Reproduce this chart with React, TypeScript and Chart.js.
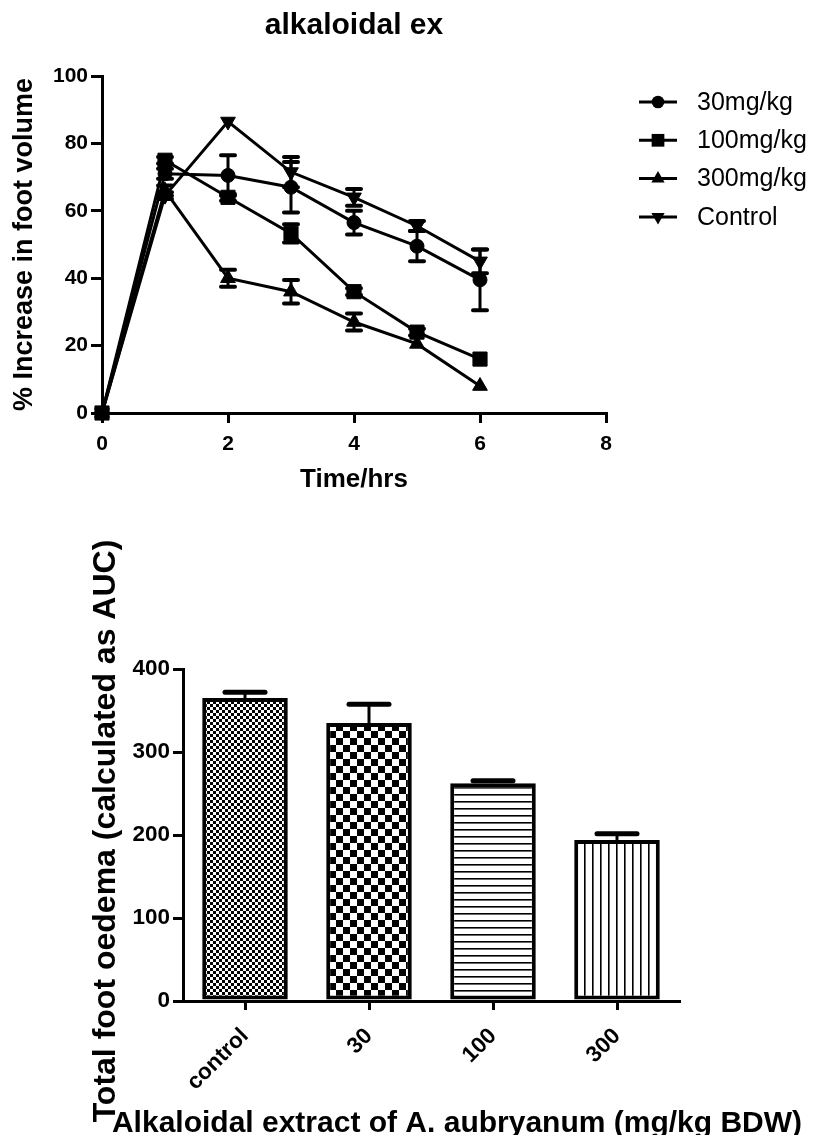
import React, { useEffect, useRef } from 'react';
import { Chart, registerables } from 'chart.js';

Chart.register(...registerables);

const FONT = "Arial, 'Liberation Sans', Helvetica, sans-serif";

// ---------- Top chart: % increase in foot volume over time ----------
const chartTitle = 'alkaloidal ex';
const timeHrs = [0, 1, 2, 3, 4, 5, 6];
const seriesNames = ['30mg/kg', '100mg/kg', '300mg/kg', 'Control'];
const mean30 = [0, 71, 70.5, 67, 56.5, 49.5, 39.5];
const sem30 = [0, 1.5, 6, 7.5, 3.5, 4.5, 9];
const mean100 = [0, 75, 64, 53.3, 36, 24, 16];
const sem100 = [0, 1, 1, 2.7, 1, 1, 0];
const mean300 = [0, 66, 40, 36, 27, 20.5, 8];
const sem300 = [0, 1.5, 2.5, 3.5, 2.5, 0, 0];
const meanControl = [0, 64.5, 86.5, 71.5, 64, 55.5, 45];
const semControl = [0, 1, 0, 4.5, 2.5, 1.5, 3.5];
const xTicksTop = [0, 2, 4, 6, 8];
const yTicksTop = [0, 20, 40, 60, 80, 100];
const xTitleTop = 'Time/hrs';
const yTitleTop = '% Increase in foot volume';

// ---------- Bottom chart: total foot oedema (AUC) ----------
const groups = ['control', '30', '100', '300'];
const aucMean = [365, 335, 262.5, 194];
const aucSem = [7, 22.5, 3, 7.5];
const yTicksBottom = [0, 100, 200, 300, 400];
const xTitleBottom = 'Alkaloidal extract of A. aubryanum (mg/kg BDW)';
const yTitleBottom = 'Total foot oedema (calculated as AUC)';

function drawMarker(ctx: CanvasRenderingContext2D, style: string, rot: number, x: number, y: number, r: number) {
  ctx.beginPath();
  if (style === 'circle') {
    ctx.arc(x, y, r, 0, Math.PI * 2);
  } else if (style === 'rect') {
    const s = r * Math.SQRT1_2;
    ctx.rect(x - s, y - s, 2 * s, 2 * s);
  } else {
    let a = (rot * Math.PI) / 180;
    ctx.moveTo(x + Math.sin(a) * r, y - Math.cos(a) * r);
    a += (2 * Math.PI) / 3;
    ctx.lineTo(x + Math.sin(a) * r, y - Math.cos(a) * r);
    a += (2 * Math.PI) / 3;
    ctx.lineTo(x + Math.sin(a) * r, y - Math.cos(a) * r);
    ctx.closePath();
  }
  ctx.fill();
}

const lineErrorBars = {
  id: 'lineErrorBars',
  beforeDatasetsDraw(chart: any) {
    const ctx = chart.ctx as CanvasRenderingContext2D;
    const xs = chart.scales.x;
    const ys = chart.scales.y;
    ctx.save();
    ctx.strokeStyle = '#000';
    chart.data.datasets.forEach((ds: any) => {
      ds.errors.forEach((e: number, j: number) => {
        if (!e) return;
        const v = ds.data[j].y;
        const x = xs.getPixelForValue(ds.data[j].x);
        const yT = ys.getPixelForValue(v + e);
        const yB = ys.getPixelForValue(v - e);
        ctx.lineWidth = 3;
        ctx.lineCap = 'butt';
        ctx.beginPath();
        ctx.moveTo(x, yT);
        ctx.lineTo(x, yB);
        ctx.stroke();
        ctx.lineWidth = 4;
        ctx.lineCap = 'round';
        ctx.beginPath();
        ctx.moveTo(x - 7, yT);
        ctx.lineTo(x + 7, yT);
        ctx.moveTo(x - 7, yB);
        ctx.lineTo(x + 7, yB);
        ctx.stroke();
      });
    });
    ctx.restore();
  },
};

const sideLegend = {
  id: 'sideLegend',
  afterDraw(chart: any) {
    const ctx = chart.ctx as CanvasRenderingContext2D;
    ctx.save();
    ctx.fillStyle = '#000';
    ctx.strokeStyle = '#000';
    ctx.font = `25px ${FONT}`;
    ctx.textAlign = 'left';
    ctx.textBaseline = 'middle';
    chart.data.datasets.forEach((ds: any, i: number) => {
      const y = 102 + i * 38.3;
      ctx.lineWidth = 3;
      ctx.beginPath();
      ctx.moveTo(639, y);
      ctx.lineTo(677, y);
      ctx.stroke();
      drawMarker(ctx, ds.pointStyle, ds.pointRotation || 0, 658, y, ds.pointRadius * 0.9);
      ctx.fillText(ds.label, 697, y + 1);
    });
    ctx.restore();
  },
};

const barErrorBars = {
  id: 'barErrorBars',
  afterDatasetsDraw(chart: any) {
    const ctx = chart.ctx as CanvasRenderingContext2D;
    const ys = chart.scales.y;
    const meta = chart.getDatasetMeta(0);
    ctx.save();
    ctx.strokeStyle = '#000';
    aucMean.forEach((m, j) => {
      const x = meta.data[j].x;
      const yBar = ys.getPixelForValue(m);
      const yT = ys.getPixelForValue(m + aucSem[j]);
      ctx.lineWidth = 3;
      ctx.lineCap = 'butt';
      ctx.beginPath();
      ctx.moveTo(x, yBar);
      ctx.lineTo(x, yT);
      ctx.stroke();
      ctx.lineWidth = 5;
      ctx.lineCap = 'round';
      ctx.beginPath();
      ctx.moveTo(x - 20, yT);
      ctx.lineTo(x + 20, yT);
      ctx.stroke();
    });
    ctx.restore();
  },
};

const bottomTitles = {
  id: 'bottomTitles',
  afterDraw(chart: any) {
    const ctx = chart.ctx as CanvasRenderingContext2D;
    ctx.save();
    ctx.fillStyle = '#000';
    ctx.textAlign = 'center';
    ctx.textBaseline = 'alphabetic';
    ctx.font = `bold 30px ${FONT}`;
    ctx.fillText(xTitleBottom, 457, 632);
    ctx.translate(115, 331);
    ctx.rotate(-Math.PI / 2);
    ctx.font = `bold 32px ${FONT}`;
    ctx.fillText(yTitleBottom, 0, 0);
    ctx.restore();
  },
};

function makePattern(target: CanvasRenderingContext2D, kind: string): CanvasPattern | string {
  const c = document.createElement('canvas');
  const g = c.getContext('2d') as CanvasRenderingContext2D;
  if (kind === 'fine') {
    c.width = 6; c.height = 6;
    g.fillStyle = '#fff'; g.fillRect(0, 0, 6, 6);
    g.fillStyle = '#000'; g.fillRect(0, 0, 3, 3); g.fillRect(3, 3, 3, 3);
  } else if (kind === 'coarse') {
    c.width = 14; c.height = 14;
    g.fillStyle = '#fff'; g.fillRect(0, 0, 14, 14);
    g.fillStyle = '#000'; g.fillRect(0, 0, 7, 7); g.fillRect(7, 7, 7, 7);
  } else if (kind === 'hlines') {
    c.width = 8; c.height = 7;
    g.fillStyle = '#fff'; g.fillRect(0, 0, 8, 7);
    g.fillStyle = '#000'; g.fillRect(0, 0, 8, 1.6);
  } else {
    c.width = 8; c.height = 8;
    g.fillStyle = '#fff'; g.fillRect(0, 0, 8, 8);
    g.fillStyle = '#000'; g.fillRect(0, 0, 1.6, 8);
  }
  return target.createPattern(c, 'repeat') || '#fff';
}

const axisGrid = (len: number) => ({
  display: true,
  drawOnChartArea: false,
  drawTicks: true,
  tickLength: len,
  tickWidth: 3,
  tickColor: '#000',
  color: '#000',
  lineWidth: 3,
});
const axisBorder = { display: true, color: '#000', width: 3 };
const tickFont = { family: FONT, size: 21, weight: 'bold' as const };
const tickFontBottom = { family: FONT, size: 22.5, weight: 'bold' as const };

export default function App() {
  const topRef = useRef<HTMLCanvasElement>(null);
  const botRef = useRef<HTMLCanvasElement>(null);

  useEffect(() => {
    Chart.defaults.font.family = FONT;
    Chart.defaults.color = '#000';

    const mk = (label: string, means: number[], errs: number[], style: string, radius: number, rotation: number) => ({
      label,
      data: timeHrs.map((t, i) => ({ x: t, y: means[i] })),
      errors: errs,
      borderColor: '#000',
      backgroundColor: '#000',
      borderWidth: 3,
      pointStyle: style,
      pointRadius: radius,
      pointRotation: rotation,
      pointBackgroundColor: '#000',
      pointBorderColor: '#000',
      pointBorderWidth: 1,
      tension: 0,
      clip: false,
    });

    const top = new Chart(topRef.current as HTMLCanvasElement, {
      type: 'line',
      data: {
        datasets: [
          mk(seriesNames[0], mean30, sem30, 'circle', 7, 0),
          mk(seriesNames[1], mean100, sem100, 'rect', 10, 0),
          mk(seriesNames[2], mean300, sem300, 'triangle', 8.5, 0),
          mk(seriesNames[3], meanControl, semControl, 'triangle', 8.5, 180),
        ] as any,
      },
      options: {
        responsive: false,
        animation: false,
        layout: { padding: { left: 0, right: 211, top: 0, bottom: 0 } },
        plugins: {
          legend: { display: false },
          tooltip: { enabled: false },
          title: {
            display: true,
            text: chartTitle,
            fullSize: false,
            align: 'center',
            color: '#000',
            font: { family: FONT, size: 30, weight: 'bold' },
            padding: { top: 8, bottom: 32 },
          },
        },
        scales: {
          x: {
            type: 'linear',
            min: 0,
            max: 8,
            afterBuildTicks: (s: any) => { s.ticks = xTicksTop.map((v) => ({ value: v })); },
            afterFit: (s: any) => { s.height = 87; },
            grid: axisGrid(10),
            border: axisBorder,
            ticks: { font: tickFont, color: '#000', padding: 9, maxRotation: 0 },
            title: {
              display: true,
              text: xTitleTop,
              color: '#000',
              font: { family: FONT, size: 26, weight: 'bold' },
              padding: { top: 0, bottom: 5 },
            },
          },
          y: {
            type: 'linear',
            min: 0,
            max: 100,
            afterBuildTicks: (s: any) => { s.ticks = yTicksTop.map((v) => ({ value: v })); },
            afterFit: (s: any) => { s.width = 102; },
            grid: axisGrid(11),
            border: axisBorder,
            ticks: { font: tickFont, color: '#000', padding: 3 },
            title: {
              display: true,
              text: yTitleTop,
              color: '#000',
              font: { family: FONT, size: 27, weight: 'bold' },
              padding: { top: 8, bottom: 0 },
            },
          },
        },
      } as any,
      plugins: [lineErrorBars, sideLegend],
    });

    const bctx = (botRef.current as HTMLCanvasElement).getContext('2d') as CanvasRenderingContext2D;
    const patterns = [
      makePattern(bctx, 'fine'),
      makePattern(bctx, 'coarse'),
      makePattern(bctx, 'hlines'),
      makePattern(bctx, 'vlines'),
    ];

    const bottom = new Chart(botRef.current as HTMLCanvasElement, {
      type: 'bar',
      data: {
        labels: groups,
        datasets: [
          {
            label: 'AUC',
            data: aucMean,
            backgroundColor: patterns as any,
            borderColor: '#000',
            borderWidth: 4,
            borderSkipped: false,
            categoryPercentage: 1,
            barPercentage: 0.69,
          },
        ],
      },
      options: {
        responsive: false,
        animation: false,
        layout: { padding: { left: 0, right: 138, top: 169, bottom: 0 } },
        plugins: { legend: { display: false }, tooltip: { enabled: false } },
        scales: {
          x: {
            afterFit: (s: any) => { s.height = 134; },
            grid: { ...axisGrid(9), offset: false },
            border: axisBorder,
            ticks: { font: tickFontBottom, color: '#000', padding: 13, maxRotation: 45, minRotation: 45, autoSkip: false },
          },
          y: {
            min: 0,
            max: 400,
            afterBuildTicks: (s: any) => { s.ticks = yTicksBottom.map((v) => ({ value: v })); },
            afterFit: (s: any) => { s.width = 183; },
            grid: axisGrid(10),
            border: axisBorder,
            ticks: { font: tickFontBottom, color: '#000', padding: 3 },
          },
        },
      } as any,
      plugins: [barErrorBars, bottomTitles],
    });

    return () => {
      top.destroy();
      bottom.destroy();
    };
  }, []);

  return (
    <div style={{ position: 'absolute', left: 0, top: 0, width: 817, height: 1135, overflow: 'hidden', background: '#fff' }}>
      <canvas ref={topRef} width={817} height={500} style={{ position: 'absolute', left: 0, top: 0, width: 817, height: 500 }} />
      <canvas ref={botRef} width={817} height={635} style={{ position: 'absolute', left: 0, top: 500, width: 817, height: 635 }} />
    </div>
  );
}
